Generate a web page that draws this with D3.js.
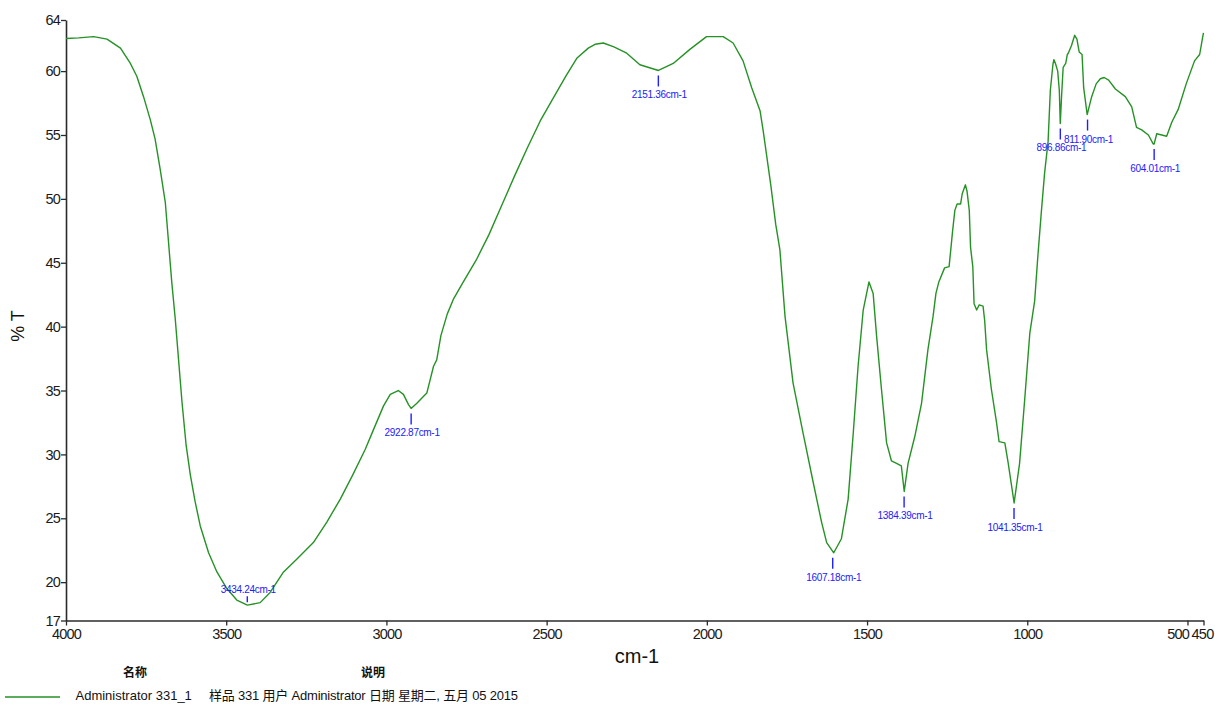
<!DOCTYPE html>
<html><head><meta charset="utf-8">
<script src="https://cdn.jsdelivr.net/npm/d3@7"></script>
<style>
html,body{margin:0;padding:0;background:#fff;}
svg{display:block;font-family:"Liberation Sans","Noto Sans CJK SC",sans-serif;}
</style></head>
<body>
<svg id="chart" width="1215" height="704"></svg>
<script>
// ---- data ----
const wavenumbers = [4000,3960,3914,3872,3830,3799,3779,3758,3737,3722,3706,3690,3680,3670,3659,3649,3638,3625,3612,3597,3581,3555,3529,3498,3467,3434,3394,3363,3321,3280,3228,3186,3144,3105,3066,3041,3009,2988,2963,2947,2931,2923,2905,2874,2864,2853,2843,2830,2810,2790,2760,2720,2680,2640,2600,2560,2520,2479,2440,2406,2370,2349,2323,2290,2250,2209,2151,2105,2053,2001,1949,1918,1887,1860,1834,1824,1800,1785,1772,1756,1731,1700,1668,1642,1626,1604,1580,1559,1543,1528,1512,1494,1481,1470,1455,1439,1424,1408,1393,1384,1372,1351,1330,1310,1294,1285,1276,1258,1244,1240,1233,1226,1219,1208,1203,1193,1188,1181,1177,1170,1166,1158,1150,1138,1133,1127,1112,1096,1088,1070,1060,1041,1024,1008,992,977,967,956,946,935,928,920,917,912,905,900,897,893,888,880,875,872,862,852,845,838,829,824,813,806,799,785,772,760,746,725,694,674,659,643,622,607,604,596,580,565,549,529,504,478,462,453,450];
const transmittance = [62.55,62.6,62.7,62.5,61.8,60.6,59.6,58.0,56.2,54.7,52.3,49.7,46.6,43.5,40.6,37.5,34.1,30.7,28.4,26.3,24.4,22.3,20.8,19.5,18.6,18.2,18.4,19.2,20.8,21.8,23.1,24.7,26.5,28.4,30.4,31.9,33.8,34.7,35.0,34.7,33.9,33.6,34.0,34.8,35.8,36.9,37.4,39.3,41.0,42.2,43.5,45.2,47.2,49.5,51.8,54.0,56.1,57.9,59.6,61.0,61.8,62.1,62.2,61.9,61.4,60.5,60.05,60.6,61.7,62.7,62.7,62.2,60.8,58.7,56.9,55.3,51.0,48.0,46.0,40.8,35.6,31.7,27.8,24.7,23.1,22.3,23.4,26.5,31.7,36.9,41.3,43.5,42.6,39.2,35.1,30.9,29.5,29.3,29.1,27.1,29.3,31.4,34.0,38.2,40.8,42.6,43.5,44.6,44.7,45.7,47.5,49.1,49.6,49.6,50.4,51.1,50.6,49.1,46.2,44.7,41.8,41.3,41.7,41.6,40.5,38.2,35.1,32.5,31.0,30.9,29.4,26.2,29.3,34.3,39.5,42.0,45.5,49.0,52.0,54.5,58.5,60.5,60.9,60.6,60.0,58.5,55.9,58.0,60.3,60.6,61.3,61.4,62.0,62.8,62.5,61.5,61.3,58.7,56.6,57.3,58.0,59.0,59.4,59.5,59.3,58.6,58.0,57.2,55.6,55.4,55.0,54.3,54.3,55.1,55.0,54.9,56.0,57.0,59.0,60.8,61.3,62.6,63.0];
const peakWn = [3434.24,2922.87,2151.36,1607.18,1384.39,1041.35,896.86,811.90,604.01];
const peakT  = [18.2,33.6,60.05,22.3,27.1,26.2,55.9,56.6,54.3];
const xTicks = [4000,3500,3000,2500,2000,1500,1000,500,450];
const yTicks = [17,20,25,30,35,40,45,50,55,60,64];
const xTitle = "cm-1";
const yTitle = "% T";
const legendHeaders = ["名称","说明"];
const seriesName = "Administrator 331_1";
const seriesDesc = "样品 331 用户 Administrator 日期 星期二, 五月 05 2015";

// ---- drawing ----
const svg = d3.select("#chart");
const x = d3.scaleLinear().domain([4000,450]).range([66,1203.5]);
const y = d3.scaleLinear().domain([17,64]).range([620.5,20]);
const axisColor = "#2b2b2b";
const green = "#259225";
const blue = "#2020ff";

const xAxis = svg.append("g").attr("transform","translate(0,620.5)")
  .call(d3.axisBottom(x).tickValues(xTicks).tickSize(5).tickSizeOuter(0).tickPadding(3).tickFormat(d3.format("d")));
const yAxis = svg.append("g").attr("transform","translate(66,0)")
  .call(d3.axisLeft(y).tickValues(yTicks).tickSize(5).tickSizeOuter(0).tickPadding(1).tickFormat(d3.format("d")));
[xAxis,yAxis].forEach(g=>{
  g.select(".domain").attr("stroke",axisColor).attr("stroke-width",1.6);
  g.selectAll(".tick line").attr("stroke",axisColor).attr("stroke-width",1.3);
  g.selectAll(".tick text").attr("fill","#1a1a1a").style("font-size","14.5px")
    .style("letter-spacing","-0.8px").style("font-family","'Liberation Sans',sans-serif");
});
// the two closely spaced end ticks: keep their labels side by side
const endLabels = xAxis.selectAll(".tick text");
endLabels.filter(d=>d===500).attr("text-anchor","end").attr("x",1);
endLabels.filter(d=>d===450).attr("text-anchor","middle").attr("x",-1.5);

// spectrum
const pts = wavenumbers.map((w,i)=>[w,transmittance[i]]);
svg.append("path").datum(pts)
  .attr("fill","none").attr("stroke",green).attr("stroke-width",1.4).attr("stroke-linejoin","round")
  .attr("d", d3.line().x(d=>x(d[0])).y(d=>y(d[1])));

// peak annotations
const plotBottom = y(17);
peakWn.forEach((w,i)=>{
  const px = x(w), py = y(peakT[i]);
  let y1 = py+5, y2 = py+16, ty = y2+12;
  if (ty > plotBottom) { y1 = py-3; y2 = py-9; ty = y2-3; }
  svg.append("line").attr("x1",px).attr("x2",px).attr("y1",y1).attr("y2",y2)
    .attr("stroke",blue).attr("stroke-width",1.4);
  svg.append("text").attr("x",px+1).attr("y",ty).attr("text-anchor","middle")
    .attr("fill",blue).style("font-size","10px").style("letter-spacing","-0.3px")
    .text(d3.format(".2f")(w)+"cm-1");
});

// axis titles
svg.append("text").attr("x",637).attr("y",663).attr("text-anchor","middle")
  .attr("fill","#111").style("font-size","20px").text(xTitle);
svg.append("text").attr("transform","translate(24,326) rotate(-90)").attr("text-anchor","middle")
  .attr("fill","#111").style("font-size","18px").text(yTitle);

// legend
const hx = [135,373];
legendHeaders.forEach((h,i)=>{
  svg.append("text").attr("x",hx[i]).attr("y",677).attr("text-anchor","middle")
    .attr("fill","#111").style("font-size","12px").style("font-weight","bold")
    .style("font-family","'Noto Sans CJK SC',sans-serif").text(h);
});
svg.append("line").attr("x1",5).attr("x2",60).attr("y1",697).attr("y2",697)
  .attr("stroke",green).attr("stroke-width",1.3);
svg.append("text").attr("x",75.5).attr("y",700).attr("fill","#111")
  .style("font-size","13px").text(seriesName);
svg.append("text").attr("x",209).attr("y",700).attr("fill","#111")
  .style("font-size","13px").style("letter-spacing","-0.2px").text(seriesDesc);
</script>
</body></html>
